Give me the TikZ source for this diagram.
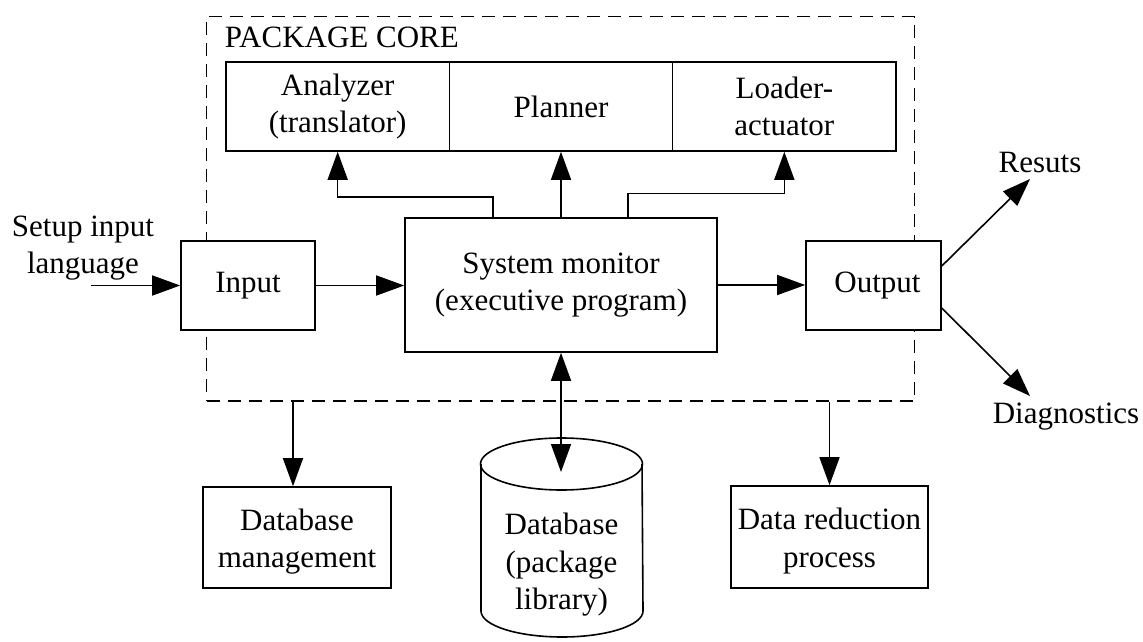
\documentclass[tikz,border=0pt]{standalone}
\usepackage{fontspec}
\setmainfont{Liberation Serif}
\usetikzlibrary{arrows.meta,calc}

% lower a line of text without changing the space it claims
\newcommand{\lowerline}[1]{\raisebox{-2pt}[\height][\depth]{#1}}

\begin{document}
\begin{tikzpicture}[x=0.5pt,y=-0.5pt,
  font=\fontsize{15.5pt}{18.75pt}\selectfont,
  line width=0.8pt,
  box/.style={draw, fill=white, line width=0.8pt, inner sep=0pt, align=center},
  cell/.style={box, minimum width=111.67pt, minimum height=44.5pt},
  plain/.style={inner sep=0pt, align=center},
  arr/.style={-{Triangle[length=14pt,width=10pt]}},
  darr/.style={{Triangle[length=14pt,width=10pt]}-{Triangle[length=14pt,width=10pt]}},
  frame/.style={draw, dash pattern=on 6.5pt off 4pt, inner sep=0pt},
]
\useasboundingbox (0,0) rectangle (1143,641);

% dashed frame of the package core
\node[frame, minimum width=354pt, minimum height=192.15pt] (core) at (560.5,208.85) {};
\node[anchor=base west, inner sep=0pt] (corelbl) at (224,48) {PACKAGE CORE};

% the three core modules
\node[cell] (ana) at (337.67,106.5) {Analyzer\\(translator)};
\node[cell] (pla) at (561,106.5) {Planner};
\node[cell] (lod) at (784.33,106.5) {Loader-\\actuator};

% main blocks
\node[box, minimum width=67pt, minimum height=44.5pt] (inp) at (248,285.5) {Input};
\node[box, minimum width=156pt, minimum height=67pt] (sm) at (561,285) {System monitor\\(executive program)};
\node[box, minimum width=67.5pt, minimum height=44.5pt] (out) at (873.5,285.5) {\hspace{4pt}Output};

% blocks below the core
\node[box, minimum width=94pt, minimum height=50.5pt] (dbm) at (297,537.5) {\lowerline{Database}\\\lowerline{management}};
\node[box, minimum width=98.5pt, minimum height=51pt] (dr) at (829.5,537) {\lowerline{Data reduction}\\\lowerline{process}};

% package library cylinder
\draw (481,464) -- (481,611)
  arc[start angle=180, end angle=360, x radius=40.5pt, y radius=13pt] -- (642,464);
\draw (561.5,464) ellipse [x radius=40.5pt, y radius=13pt];
\node[plain] (db) at (561.5,565) {Database\\(package\\library)};
\coordinate (dbtop) at (561,472);

% outside labels
\node[plain] (setup) at (83,248) {Setup input\\language};
\node[plain, anchor=base] (reslbl) at (1040,173) {Resuts};
\node[plain, anchor=base] (diaglbl) at (1066,423) {Diagnostics};
\coordinate (src) at (91,285.5);
\coordinate (restip) at (1030,179);
\coordinate (diagtip) at (1030,396);

% connectors
\draw[arr] (src) -- (inp.west);
\draw[arr] (inp.east) -- (inp.east -| sm.west);
\draw[arr] (sm.east) -- (sm.east -| out.west);
\draw[arr] ([xshift=-34pt]sm.north) -- ++(0,-20) -| (ana.south);
\draw[arr] (sm.north) -- (pla.south);
\draw[arr] ([xshift=33.35pt]sm.north) -- ++(0,-23.7) -| (lod.south);
\draw[darr] (sm.south) -- (dbtop);
\draw[arr] ([yshift=9.75pt]out.east) -- (restip);
\draw[arr] ([yshift=-11.25pt]out.east) -- (diagtip);
\draw[arr] ([xshift=-2pt]dbm.north |- core.south) -- ([xshift=-2pt]dbm.north);
\draw[arr] (dr.north |- core.south) -- (dr.north);
\end{tikzpicture}
\end{document}
